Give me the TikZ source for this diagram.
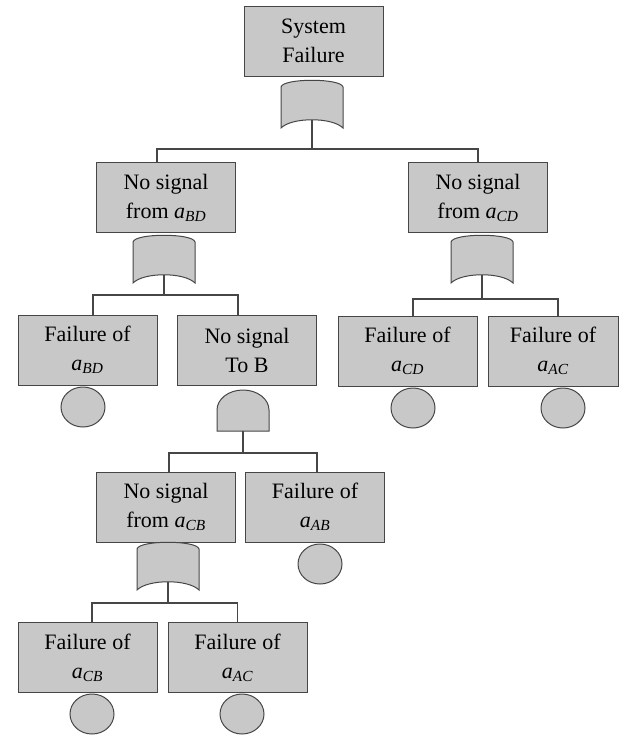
\documentclass[tikz,border=0pt]{standalone}
\usepackage{fontspec}
\setmainfont{Liberation Serif}
\usetikzlibrary{shapes.geometric}

\definecolor{boxgray}{RGB}{200,200,200}
\definecolor{edgegray}{RGB}{70,70,70}
\newcommand{\va}[1]{\textit{a}\textsubscript{\textit{#1}}}

\tikzset{
  evtbox/.style={draw=edgegray, fill=boxgray, line width=1pt, align=center, inner sep=0pt,
    minimum width=139pt, minimum height=70pt, font=\fontsize{22}{29}\selectfont},
  basic/.style={ellipse, draw=edgegray, fill=boxgray, line width=1pt, inner sep=0pt,
    minimum width=44pt, minimum height=40pt},
  gateline/.style={draw=edgegray, fill=boxgray, line width=1pt},
  link/.style={draw=edgegray, line width=1.2pt},
  orgate/.pic={
    \draw[gateline] (-31,7) .. controls (-29,-2) and (29,-2) .. (31,7) -- (31,48)
      .. controls (20,37) and (-20,37) .. (-31,48) -- cycle;
    \coordinate (-out) at (0,40);
  },
  andgate/.pic={
    \draw[gateline] (-26,41) -- (-26,20) arc[start angle=180, end angle=360, x radius=26, y radius=20]
      -- (26,41) -- cycle;
    \coordinate (-out) at (0,41);
  },
}

\begin{document}
\begin{tikzpicture}[x=1pt, y=-1pt]
	\useasboundingbox (0,0) rectangle (628,736);
	% top event
	\node[evtbox] (sys) at (313.5,41) {System\\Failure};
	\pic (g1) at (312,80) {orgate};
	% second level
	\node[evtbox] (bd) at (166,197.5) {No signal\\from \va{BD}};
	\node[evtbox] (cd) at (478,197.5) {No signal\\from \va{CD}};
	\pic (g2) at (164,235) {orgate};
	\pic (g3) at (482,235) {orgate};
	% third level
	\node[evtbox] (bdf) at (87.5,350) {Failure of\\\va{BD}};
	\node[evtbox] (tob) at (247,350.5) {No signal\\To B};
	\node[evtbox] (cdf) at (407.5,351) {Failure of\\\va{CD}};
	\node[evtbox, minimum width=130pt] (acf) at (553,351) {Failure of\\\va{AC}};
	\node[basic] (bdc) at (83,407) {};
	\node[basic] (cdc) at (413,408) {};
	\node[basic] (acc) at (563,408) {};
	\pic (g4) at (243,390) {andgate};
	% fourth level
	\node[evtbox] (cb) at (166,507) {No signal\\from \va{CB}};
	\node[evtbox] (ab) at (315,507) {Failure of\\\va{AB}};
	\node[basic] (abc) at (320,564) {};
	\pic (g5) at (168,542) {orgate};
	% fifth level
	\node[evtbox] (cbf) at (87.5,657.5) {Failure of\\\va{CB}};
	\node[evtbox] (acf2) at (237.5,657.5) {Failure of\\\va{AC}};
	\node[basic] (cbc) at (92,714) {};
	\node[basic] (acc2) at (242,714) {};

	% connectors
	\draw[link] (g1-out) -- ++(0,29) coordinate (j1);
	\draw[link] ([xshift=-9pt]bd.north) |- (j1) -| (cd.north);
	\draw[link] (g2-out) -- ++(0,20) coordinate (j2);
	\draw[link] ([xshift=5.5pt]bdf.north) |- (j2) -| ([xshift=-9pt]tob.north);
	\draw[link] (g3-out) -- ++(0,24) coordinate (j3);
	\draw[link] ([xshift=5.5pt]cdf.north) |- (j3) -| ([xshift=5pt]acf.north);
	\draw[link] (g4-out) -- ++(0,22) coordinate (j4);
	\draw[link] ([xshift=3pt]cb.north) |- (j4) -| ([xshift=2pt]ab.north);
	\draw[link] (g5-out) -- ++(0,21) coordinate (j5);
	\draw[link] ([xshift=4.5pt]cbf.north) |- (j5) -| (acf2.north);
\end{tikzpicture}
\end{document}
